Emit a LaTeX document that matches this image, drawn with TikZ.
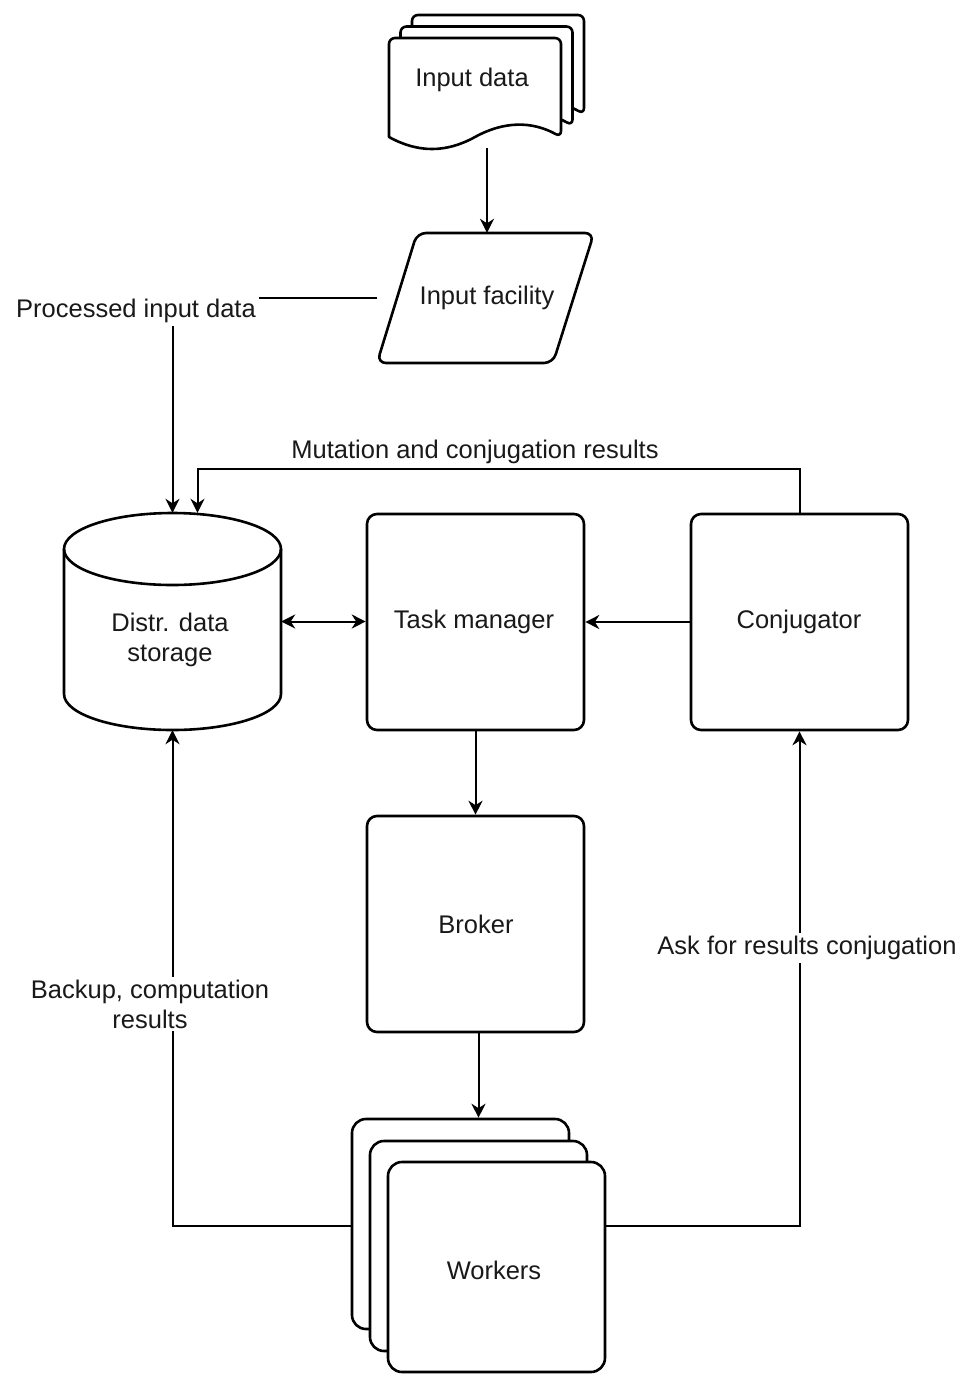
\documentclass[tikz,border=0pt]{standalone}
\usepackage{fontspec}
\setmainfont{Liberation Sans}
\usetikzlibrary{arrows.meta}
\begin{document}
\begin{tikzpicture}[x=1pt,y=1pt,
  font=\fontsize{25.5}{30}\selectfont,
  shp/.style={draw=black,line width=2.6pt,fill=white},
  boxs/.style={shp,rounded corners=10pt,minimum width=217pt,minimum height=216pt,inner sep=0pt},
  wbox/.style={shp,rounded corners=14pt,minimum width=217pt,minimum height=210pt,inner sep=0pt},
  conn/.style={line width=2pt,draw=black},
  tip/.tip={Stealth[length=14pt,width=14pt,inset=4.5pt]},
  arr/.style={conn,-tip},
  darr/.style={conn,tip-tip},
  lbl/.style={fill=white,inner sep=3pt,text=black!90,align=center},
  txt/.style={text=black!90,align=center,inner sep=0pt}
]
\useasboundingbox (0,0) rectangle (968,-1374);

% ---------- Input data (document stack) ----------
\foreach \dx/\dy in {23/-23,11.5/-11.5,0/0}{
  \begin{scope}[shift={(\dx,-\dy)}]
  \draw[shp,line join=round,rounded corners=6pt] (389,-137) -- (389,-38) -- (561,-38) -- (561,-137)
     [rounded corners=0pt] .. controls (532,-121) and (504,-121) .. (475,-137)
     .. controls (446,-153) and (418,-153) .. (389,-137) -- cycle;
  \end{scope}
}
\node[minimum width=196pt,minimum height=133pt,inner sep=0pt] (doc) at (487,-81.5) {};
\node[txt] (doctext) at (472,-80) {Input data};

% ---------- Input facility (parallelogram) ----------
\draw[shp,rounded corners=9pt] (417,-233) -- (594,-233) -- (553,-363) -- (377,-363) -- cycle;
\node[minimum width=217pt,minimum height=130pt,inner sep=0pt] (fac) at (485.5,-298) {};
\node[txt] (factext) at (487,-298) {Input facility};

% ---------- Distributed data storage (cylinder) ----------
\draw[shp] (64,-549) -- (64,-694) arc[start angle=180,end angle=360,x radius=108.5,y radius=36]
   -- (281,-549) arc[start angle=0,end angle=180,x radius=108.5,y radius=36] -- cycle;
\draw[shp,fill=none] (64,-549) arc[start angle=180,end angle=360,x radius=108.5,y radius=36];
\node[minimum width=217pt,minimum height=217pt,inner sep=0pt] (cyl) at (172.5,-621.5) {};
\node[txt] (cyltext) at (170,-640) {Distr. data\\storage};

% ---------- Boxes ----------
\node[boxs] (tm) at (475.5,-622) {};
\node[txt] (tmtext) at (474,-622) {Task manager};
\node[boxs] (conj) at (799.5,-622) {};
\node[txt] (conjtext) at (799,-622) {Conjugator};
\node[boxs] (brk) at (475.5,-924) {};
\node[txt] (brktext) at (476,-924) {Broker};

% ---------- Workers (stack) ----------
\node[wbox] (w3) at (460.5,-1224) {};
\node[wbox] (w2) at (478.5,-1246) {};
\node[wbox] (w1) at (496.5,-1267) {};
\node[txt] (wtext) at (494,-1270) {Workers};

% ---------- Connectors ----------
\draw[arr] (doc.south) -- (doc.south |- fac.north);
\draw[arr] (fac.west) -| (cyl.north);
\draw[arr] (conj.north) -- ++(0,44) -| ([xshift=25pt]cyl.north);
\draw[darr] (cyl.east) -- (cyl.east -| tm.west);
\draw[arr] (conj.west) -- (tm.east);
\draw[arr] (tm.south) -- (brk.north);
\draw[arr] (w2.north |- brk.south) -- (w2.north |- w3.north);
\coordinate (wl) at ([yshift=-2pt]w3.west);
\draw[arr] (wl) -| (cyl.south);
\coordinate (wr) at (w1.east |- wl);
\draw[arr] (wr) -| (conj.south);

% ---------- Labels ----------
\node[lbl] (l1) at (136,-311) {Processed input data};
\node[txt] (l2) at (475,-452) {Mutation and conjugation results};
\node[lbl] (l3) at (150,-1004) {Backup, computation\\results};
\node[lbl] (l4) at (807,-948) {Ask for results conjugation};
\end{tikzpicture}
\end{document}
